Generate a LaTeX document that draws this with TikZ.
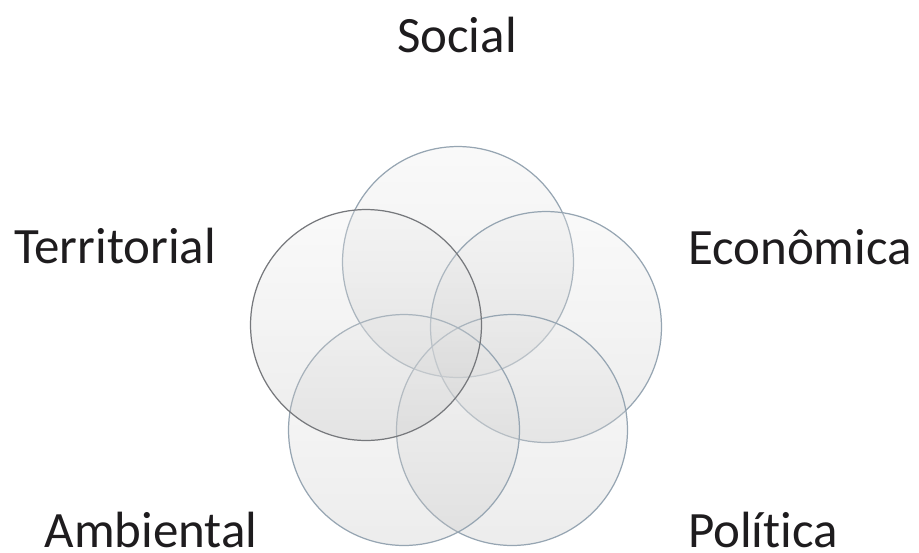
\documentclass[tikz,border=0pt]{standalone}
\usepackage{fontspec}
\setmainfont[Ligatures=NoCommon]{Carlito}
\usepackage{tikz}
\usetikzlibrary{positioning}
\definecolor{ringedge}{RGB}{150,165,178}
\definecolor{ringdark}{RGB}{118,120,124}
\definecolor{labeltext}{RGB}{30,28,30}

\tikzset{
  ring/.style={circle,draw=ringedge,line width=0.7pt,minimum size=4.62cm,inner sep=0pt,
    top color=black!7,bottom color=black!24,fill opacity=0.3,draw opacity=1},
  dimlabel/.style={anchor=base,text=labeltext,inner sep=0pt,text depth=0pt,font=\fontsize{29}{34}\selectfont}
}

\begin{document}
\begin{tikzpicture}[x=0.02cm,y=-0.02cm]
        \useasboundingbox (0,0) rectangle (919,552);
        % five overlapping rings
        \node[ring] (social) at (458,262) {};
        \node[ring] (economica) at (546,327) {};
        \node[ring] (politica) at (512,430) {};
        \node[ring] (ambiental) at (404,430) {};
        \node[ring,draw=ringdark] (territorial) at (366,325) {};
        % dimension names
        \node[dimlabel] (lsocial) at (457,52) {Social};
        \node[dimlabel] (lterritorial) at (115,263) {Territorial};
        \node[dimlabel] (leconomica) at (800,264) {Econômica};
        \node[dimlabel] (lambiental) at (151,547) {Ambiental};
        \node[dimlabel] (lpolitica) at (763,547) {Polít\kern0ptica};
      \end{tikzpicture}
\end{document}
